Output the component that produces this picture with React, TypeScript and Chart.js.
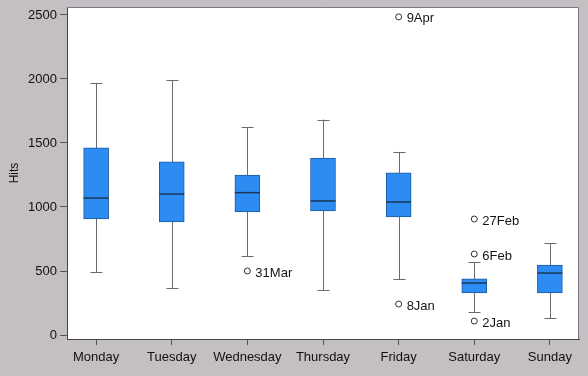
import { useEffect, useRef } from 'react';
import { Chart, registerables } from 'chart.js';

Chart.register(...registerables);

const days = ['Monday', 'Tuesday', 'Wednesday', 'Thursday', 'Friday', 'Saturday', 'Sunday'];
const lowWhisker = [492, 367, 617, 352, 438, 180, 133];
const q1 = [906, 883, 961, 969, 922, 328, 328];
const median = [1070, 1101, 1112, 1047, 1039, 406, 484];
const q3 = [1462, 1352, 1250, 1383, 1266, 438, 547];
const highWhisker = [1965, 1990, 1625, 1683, 1430, 570, 719];
const outlierDay = [2, 4, 4, 5, 5, 5];
const outlierValue = [500, 2485, 242, 906, 633, 109];
const outlierLabel = ['31Mar', '9Apr', '8Jan', '27Feb', '6Feb', '2Jan'];
const yTicks = [0, 500, 1000, 1500, 2000, 2500];

const FONT = 'Liberation Sans, Arial, sans-serif';

export default function App() {
  const ref = useRef<HTMLCanvasElement>(null);
  useEffect(() => {
    document.body.style.margin = '0';
    const bgPlugin = {
      id: 'bg',
      beforeDraw(chart: any) {
        const { ctx, chartArea: a } = chart;
        ctx.save();
        ctx.fillStyle = '#c3bfc3';
        ctx.fillRect(0, 0, chart.width, chart.height);
        ctx.fillStyle = '#ffffff';
        ctx.fillRect(a.left, a.top, a.right - a.left, a.bottom - a.top);
        ctx.restore();
      },
      beforeDatasetsDraw(chart: any) {
        const { ctx, scales } = chart;
        const xs = scales.x, ys = scales.y;
        ctx.save();
        ctx.strokeStyle = '#6a6a70';
        ctx.lineWidth = 1;
        days.forEach((_, i) => {
          const x = Math.round(xs.getPixelForValue(i)) + 0.5;
          const yl = ys.getPixelForValue(lowWhisker[i]);
          const yh = ys.getPixelForValue(highWhisker[i]);
          ctx.beginPath();
          ctx.moveTo(x, yl);
          ctx.lineTo(x, yh);
          ctx.moveTo(x - 6, Math.round(yl) + 0.5);
          ctx.lineTo(x + 6, Math.round(yl) + 0.5);
          ctx.moveTo(x - 6, Math.round(yh) + 0.5);
          ctx.lineTo(x + 6, Math.round(yh) + 0.5);
          ctx.stroke();
        });
        ctx.restore();
      },
      afterDatasetsDraw(chart: any) {
        const { ctx, scales } = chart;
        const xs = scales.x, ys = scales.y;
        ctx.save();
        ctx.strokeStyle = '#1b3558';
        ctx.lineWidth = 1.5;
        days.forEach((_, i) => {
          const x = xs.getPixelForValue(i);
          const y = ys.getPixelForValue(median[i]);
          ctx.beginPath();
          ctx.moveTo(x - 12.5, y);
          ctx.lineTo(x + 12.5, y);
          ctx.stroke();
        });
        ctx.fillStyle = '#151515';
        ctx.font = '13px ' + FONT;
        ctx.textAlign = 'left';
        ctx.textBaseline = 'middle';
        outlierValue.forEach((v, i) => {
          const x = xs.getPixelForValue(outlierDay[i]);
          const y = ys.getPixelForValue(v);
          ctx.fillText(outlierLabel[i], x + 8, y + 2);
        });
        ctx.restore();
      },
      afterDraw(chart: any) {
        const { ctx, chartArea: a } = chart;
        ctx.save();
        ctx.strokeStyle = '#7a7a80';
        ctx.lineWidth = 1;
        ctx.beginPath();
        ctx.moveTo(a.left, a.top + 0.5);
        ctx.lineTo(a.right - 0.5, a.top + 0.5);
        ctx.lineTo(a.right - 0.5, a.bottom);
        ctx.stroke();
        ctx.restore();
      },
    };

    const chart = new Chart(ref.current as HTMLCanvasElement, {
      type: 'bar',
      data: {
        datasets: [
          {
            type: 'bar',
            data: days.map((_, i) => ({ x: i, y: [q1[i], q3[i]] })) as any,
            backgroundColor: '#2d8cf2',
            borderColor: '#1d5c9e',
            borderWidth: 1,
            borderSkipped: false,
            barThickness: 25,
          } as any,
          {
            type: 'scatter',
            data: outlierValue.map((v, i) => ({ x: outlierDay[i], y: v })),
            pointRadius: 3,
            pointBackgroundColor: '#ffffff',
            pointBorderColor: '#333333',
            pointBorderWidth: 1,
          } as any,
        ],
      },
      options: {
        responsive: false,
        animation: false,
        layout: { padding: { left: 0, top: 7, right: 9, bottom: 0 } },
        plugins: { legend: { display: false }, tooltip: { enabled: false } },
        scales: {
          x: {
            type: 'linear',
            offset: false,
            min: -0.385,
            max: 6.385,
            afterBuildTicks: (s: any) => {
              s.ticks = days.map((_, i) => ({ value: i }));
            },
            afterFit: (s: any) => {
              s.height = 37;
              s.paddingLeft = 0;
              s.paddingRight = 0;
            },
            ticks: {
              callback: (v: any) => days[v as number],
              font: { size: 13, family: FONT },
              color: '#111',
              padding: 5,
              autoSkip: false,
              maxRotation: 0,
            },
            grid: { offset: false, drawOnChartArea: false, drawTicks: true, tickLength: 6, color: '#555' },
            border: { color: '#444', width: 1 },
          },
          y: {
            type: 'linear',
            min: -31,
            max: 2562,
            afterBuildTicks: (s: any) => {
              s.ticks = yTicks.map((v) => ({ value: v }));
            },
            afterFit: (s: any) => {
              s.width = 67;
              s.paddingTop = 0;
              s.paddingBottom = 0;
            },
            ticks: {
              callback: (v: any) => String(v),
              font: { size: 13, family: FONT },
              color: '#111',
              padding: 3,
            },
            grid: { drawOnChartArea: false, drawTicks: true, tickLength: 7, color: '#555' },
            border: { color: '#444', width: 1 },
            title: {
              display: true,
              text: 'Hits',
              font: { size: 12, family: FONT },
              color: '#111',
              padding: { top: 7, bottom: 0 },
            },
          },
        },
      } as any,
      plugins: [bgPlugin],
    });
    return () => chart.destroy();
  }, []);
  return (
    <canvas
      ref={ref}
      width={588}
      height={376}
      style={{ display: 'block', width: 588, height: 376 }}
    />
  );
}
